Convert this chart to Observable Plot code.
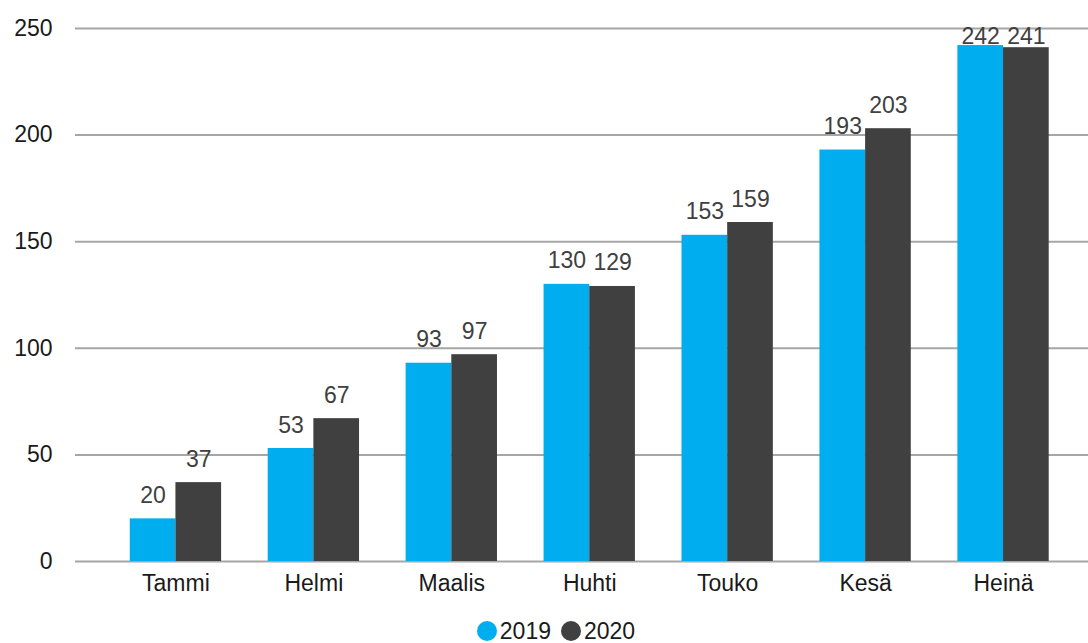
<!DOCTYPE html>
<html>
<head>
<meta charset="utf-8">
<script src="https://cdn.jsdelivr.net/npm/d3@7"></script>
<script src="https://cdn.jsdelivr.net/npm/@observablehq/plot@0.6"></script>
<style>
  html, body { margin: 0; padding: 0; background: #fff; }
  #chart { position: relative; width: 1088px; height: 612px; }
  #chart svg { display: block; position: absolute; left: 0; top: 0; }
  .legend { display: flex; justify-content: center; align-items: center; padding-left: 24px; margin-top: 8px;
            font-family: "Liberation Sans", Arial, sans-serif; font-size: 23px; line-height: 22px; height: 22px; color: #1a1a1a; }
  .legend .item { display: flex; align-items: center; margin: 0 5px; }
  .legend .sw { width: 20px; height: 20px; border-radius: 50%; margin-right: 3px; }
</style>
</head>
<body>
<div id="chart"></div>
<script>
const months = ["Tammi", "Helmi", "Maalis", "Huhti", "Touko", "Kesä", "Heinä"];
const years = ["2019", "2020"];
const v2019 = [20, 53, 93, 130, 153, 193, 242];
const v2020 = [37, 67, 97, 129, 159, 203, 241];
const yTicks = [0, 50, 100, 150, 200, 250];
const colors = ["#00ADEF", "#404040"];
// data labels are kept inside the plot area (as in the original chart)
const labelCeil = 235;

const data = months.flatMap((m, i) => [
  {month: m, year: years[0], value: v2019[i]},
  {month: m, year: years[1], value: v2020[i]}
]);

const common = {
  width: 1088,
  height: 612,
  marginLeft: 75,
  marginRight: 0,
  marginTop: 28,
  marginBottom: 51,
  style: {fontFamily: "'Liberation Sans', Arial, sans-serif", fontSize: "23px", color: "#1a1a1a", background: "transparent", overflow: "visible"},
  y: {domain: [0, 250], axis: null}
};

// Background: gridlines and y tick labels spanning the full frame
const back = Plot.plot({
  ...common,
  marks: [
    Plot.ruleY(yTicks, {y: d => d, stroke: "#a6a6a6", strokeWidth: 2}),
    Plot.axisY(yTicks, {tickSize: 0, tickPadding: 23, label: null, fill: "#1a1a1a"})
  ]
});

// Foreground: grouped bars via month facets
const front = Plot.plot({
  ...common,
  fx: {domain: months, paddingInner: 0, paddingOuter: 0.172, align: 0.663, round: false, label: null},
  x: {domain: years, paddingInner: 0, paddingOuter: 0.51, round: false, axis: null},
  color: {domain: years, range: colors},
  marks: [
    Plot.barY(data, {fx: "month", x: "year", y: "value", fill: "year"}),
    Plot.text(data, {fx: "month", x: "year", y: d => Math.min(d.value, labelCeil), text: d => String(d.value), lineAnchor: "bottom", dy: -16, fill: "#404040"}),
    Plot.axisFx({anchor: "bottom", tickSize: 0, tickPadding: 13, label: null})
  ]
});

const host = document.getElementById("chart");
host.appendChild(back);
host.appendChild(front);

const legend = document.createElement("div");
legend.className = "legend";
years.forEach((y, i) => {
  const item = document.createElement("div");
  item.className = "item";
  const sw = document.createElement("span");
  sw.className = "sw";
  sw.style.background = colors[i];
  const t = document.createElement("span");
  t.textContent = y;
  item.appendChild(sw);
  item.appendChild(t);
  legend.appendChild(item);
});
document.body.appendChild(legend);
</script>
</body>
</html>
